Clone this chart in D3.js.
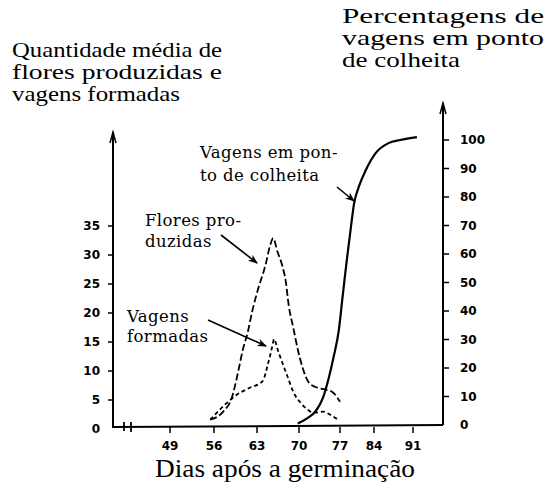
<html>
<head>
    <script src="https://d3js.org/d3.v7.min.js"></script>
    <style>
        body { margin: 0; background: #fff; }
    </style>
</head>
<body>
<svg id="chart" width="546" height="488"></svg>

<script>
    //days after germination (x ticks)
    let dayTicks = [49, 56, 63, 70, 77, 84, 91];
    let leftTicks = [0, 5, 10, 15, 20, 25, 30, 35];
    let rightTicks = [0, 10, 20, 30, 40, 50, 60, 70, 80, 90, 100];

    //flores produzidas (left axis)
    let floresDays = [55.4, 57.5, 58.9, 59.9, 60.7, 61.5, 62.2, 63.2, 64.4, 65.2, 65.7, 66.4, 67.2, 67.8, 68.3, 69.0, 69.8, 70.7, 71.7, 73.2, 74.5, 75.8, 77.0];
    let floresVals = [1.6, 3.0, 5.4, 9.7, 13.7, 16.7, 20.2, 24.2, 28.2, 31.7, 32.9, 30.6, 28.2, 25.4, 21.2, 17.7, 13.7, 10.3, 8.0, 7.1, 6.8, 6.3, 4.7];

    //vagens formadas (left axis)
    let vagensDays = [55.4, 58.1, 59.7, 61.8, 63.9, 64.9, 65.7, 65.8, 66.6, 67.2, 68.1, 69.1, 70.3, 71.5, 72.5, 74.2, 75.4, 76.7];
    let vagensVals = [1.6, 4.5, 5.9, 7.1, 8.2, 11.5, 15.0, 15.5, 13.2, 11.5, 9.0, 6.3, 4.5, 3.3, 2.8, 3.0, 2.4, 1.6];

    //vagens em ponto de colheita, % (right axis)
    let colheitaDays = [69.8, 71.5, 72.9, 74.1, 75.1, 75.9, 76.8, 77.4, 78.0, 78.5, 79.2, 79.9, 80.9, 82.3, 84.3, 86.6, 88.7, 91.7];
    let colheitaVals = [0.5, 2.5, 5.0, 9.6, 16.7, 23.8, 33.3, 42.9, 52.1, 59.2, 68.8, 77.7, 83.7, 89.4, 95.4, 98.9, 100, 101];

    let svg = d3.select("svg#chart");
    let titleFont = "'Liberation Serif', 'DejaVu Serif', serif";
    let noteFont = "'DejaVu Serif', 'Liberation Serif', serif";
    let numFont = "'DejaVu Sans', sans-serif";

    //axis frame
    let leftX = 113, rightX = 443, baseY = 427;

    //scales (the hand drawn day ticks are not evenly spaced)
    let xScale = d3.scaleLinear().domain(dayTicks).range([170, 214, 257, 299, 340, 374, 413]);
    let yLeft = d3.scaleLinear().domain([0, 35]).range([429, 226]);
    let yRight = d3.scaleLinear().domain([0, 100]).range([425, 140]);

    //titles, stretched to the width they have in the print
    function title(t, x, y, size, len, anchor) {
        svg.append("text").attr("x", x).attr("y", y).text(t)
            .attr("text-anchor", anchor || "start")
            .attr("textLength", len).attr("lengthAdjust", "spacingAndGlyphs")
            .style("font-family", titleFont).style("font-size", size + "px");
    }
    title("Quantidade média de", 12, 57, 21, 210);
    title("flores produzidas e", 12, 79, 21, 210);
    title("vagens formadas", 12, 101, 21, 168);
    title("Percentagens de", 342, 23, 21, 202);
    title("vagens em ponto", 342, 45, 21, 202);
    title("de colheita", 342, 67, 21, 118);
    title("Dias após a germinação", 155, 477, 25, 260);

    //axis lines
    svg.append("line").attr("x1", leftX).attr("x2", leftX).attr("y1", baseY + 1).attr("y2", 132)
        .style("stroke", "#000").style("stroke-width", 2);
    svg.append("line").attr("x1", rightX).attr("x2", rightX).attr("y1", 425).attr("y2", 103)
        .style("stroke", "#000").style("stroke-width", 2);
    svg.append("line").attr("x1", leftX).attr("x2", rightX).attr("y1", baseY).attr("y2", 425)
        .style("stroke", "#000").style("stroke-width", 2);

    //axis arrows
    [[leftX, 132], [rightX, 103]].forEach(function(a) {
        svg.append("path")
            .attr("d", "M" + (a[0] - 3) + "," + (a[1] + 11) + "L" + a[0] + "," + a[1] + "L" + (a[0] + 3) + "," + (a[1] + 11))
            .style("fill", "none").style("stroke", "#000").style("stroke-width", 1.5);
    });

    //axis break near origin
    [124, 131].forEach(function(x, i) {
        svg.append("line").attr("x1", x).attr("x2", x).attr("y1", baseY - 5).attr("y2", baseY + 4 + i)
            .style("stroke", "#000").style("stroke-width", 1.8);
    });

    //x ticks
    dayTicks.forEach(function(d) {
        svg.append("line").attr("x1", xScale(d)).attr("x2", xScale(d))
            .attr("y1", baseY).attr("y2", baseY + 6)
            .style("stroke", "#000").style("stroke-width", 1.5);
        svg.append("text").attr("x", xScale(d)).attr("y", 450).attr("text-anchor", "middle")
            .text(d).style("font-family", numFont).style("font-weight", "bold").style("font-size", "12px");
    });

    //left ticks
    leftTicks.forEach(function(v) {
        if (v > 0) {
            svg.append("line").attr("x1", leftX - 5).attr("x2", leftX)
                .attr("y1", yLeft(v)).attr("y2", yLeft(v))
                .style("stroke", "#000").style("stroke-width", 1.5);
        }
        svg.append("text").attr("x", 100).attr("y", yLeft(v) + 4).attr("text-anchor", "end")
            .text(v).style("font-family", numFont).style("font-weight", "bold").style("font-size", "12px");
    });

    //right ticks
    rightTicks.forEach(function(v) {
        if (v > 0) {
            svg.append("line").attr("x1", rightX).attr("x2", rightX + 6)
                .attr("y1", yRight(v)).attr("y2", yRight(v))
                .style("stroke", "#000").style("stroke-width", 1.5);
        }
        svg.append("text").attr("x", 460).attr("y", yRight(v) + 4)
            .text(v).style("font-family", numFont).style("font-weight", "bold").style("font-size", "12px");
    });

    //curves
    function series(days, vals) {
        return days.map(function(d, i) { return [d, vals[i]]; });
    }
    let leftLine = d3.line().x(d => xScale(d[0])).y(d => yLeft(d[1])).curve(d3.curveMonotoneX);
    let rightLine = d3.line().x(d => xScale(d[0])).y(d => yRight(d[1])).curve(d3.curveMonotoneX);

    svg.append("path").attr("d", leftLine(series(floresDays, floresVals)))
        .style("fill", "none").style("stroke", "#000").style("stroke-width", 1.8)
        .style("stroke-dasharray", "7,3");
    svg.append("path").attr("d", leftLine(series(vagensDays, vagensVals)))
        .style("fill", "none").style("stroke", "#000").style("stroke-width", 1.8)
        .style("stroke-dasharray", "4,3");
    svg.append("path").attr("d", rightLine(series(colheitaDays, colheitaVals)))
        .style("fill", "none").style("stroke", "#000").style("stroke-width", 2.2);

    //annotations
    svg.append("defs").append("marker").attr("id", "head")
        .attr("viewBox", "0 0 10 10").attr("refX", 9).attr("refY", 5)
        .attr("markerWidth", 6).attr("markerHeight", 6).attr("orient", "auto")
        .append("path").attr("d", "M0,1L10,5L0,9L3,5Z").style("fill", "#000");

    let notes = [
        {lines: ["Vagens em pon-", "to de colheita"], x: 200, y: 158, gap: 23, arrow: [337, 187, 354, 201]},
        {lines: ["Flores pro-", "duzidas"], x: 145, y: 226, gap: 21, arrow: [221, 235, 257, 263]},
        {lines: ["Vagens", "formadas"], x: 127, y: 322, gap: 20, arrow: [208, 320, 266, 346]}
    ];
    notes.forEach(function(n) {
        n.lines.forEach(function(t, i) {
            svg.append("text").attr("x", n.x).attr("y", n.y + i * n.gap).text(t)
                .style("font-family", noteFont).style("font-size", "16.5px")
                .style("letter-spacing", "0.4px");
        });
        svg.append("line").attr("x1", n.arrow[0]).attr("y1", n.arrow[1])
            .attr("x2", n.arrow[2]).attr("y2", n.arrow[3])
            .style("stroke", "#000").style("stroke-width", 1.6)
            .attr("marker-end", "url(#head)");
    });
</script>
</body>
</html>
